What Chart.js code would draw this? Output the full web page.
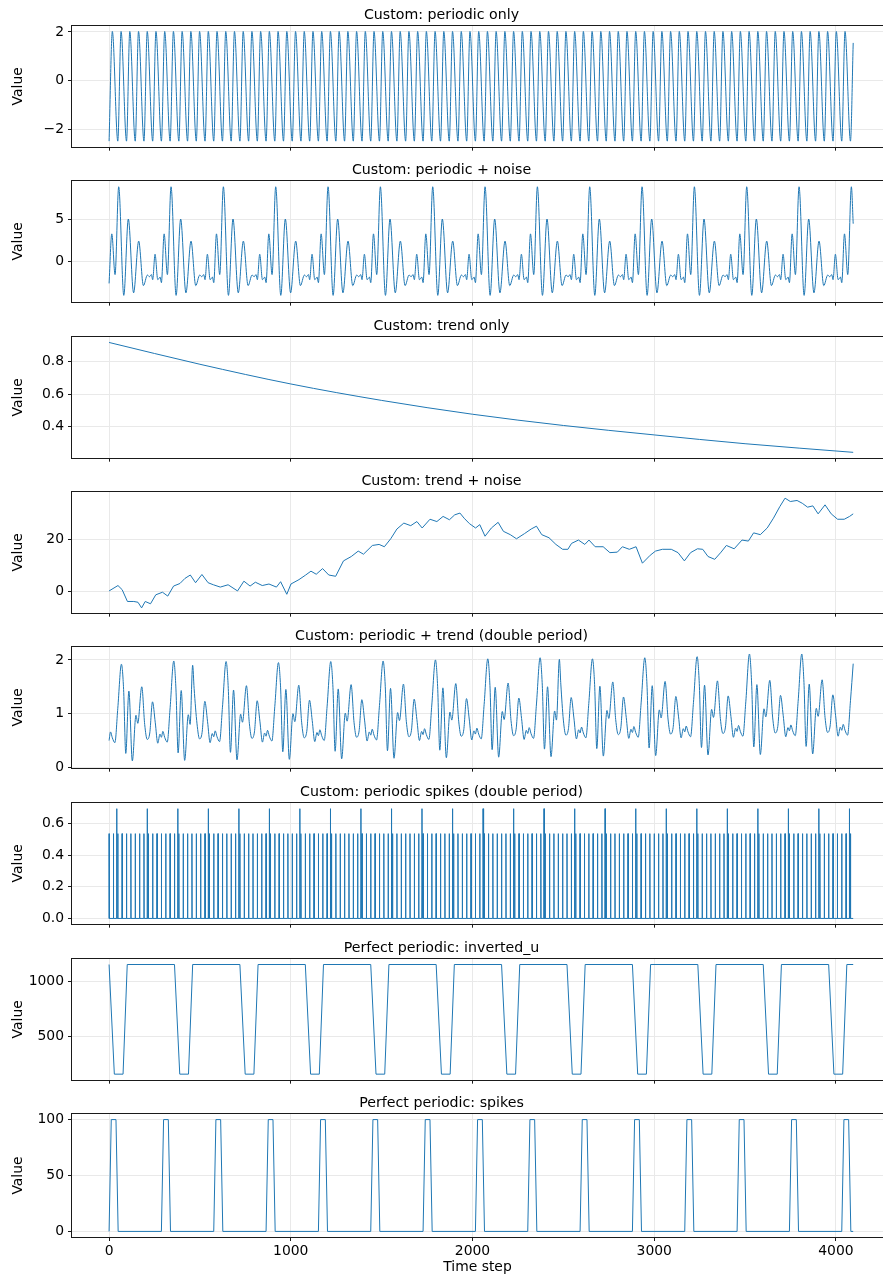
<!DOCTYPE html>
<html>
<head>
<meta charset="utf-8">
<title>Custom and perfect periodic series</title>
<script src="https://cdn.jsdelivr.net/npm/chart.js@4.4.1/dist/chart.umd.min.js"></script>
<style>
  html, body { margin: 0; padding: 0; background: #fff; }
  #figure { position: relative; width: 883px; height: 1277px; overflow: hidden; }
  #figure canvas { position: absolute; left: 0; }
</style>
</head>
<body>
<div id="figure"></div>
<script>
// x axis (time step) shared by all panels
const timeTicks = [0, 1000, 2000, 3000, 4000];
const timeTickLabels = ['0', '1000', '2000', '3000', '4000'];

// [time step, value] vertices
const periodicOnly = [
  [0,-2.48],[18,2.02],[48,-2.48],[66,2.02],[96,-2.48],[114,2.02],[144,-2.48],[162,2.02],
  [192,-2.48],[210,2.02],[240,-2.48],[258,2.02],[288,-2.48],[306,2.02],[336,-2.48],[354,2.02],
  [384,-2.48],[402,2.02],[432,-2.48],[450,2.02],[480,-2.48],[498,2.02],[528,-2.48],[546,2.02],
  [576,-2.48],[594,2.02],[624,-2.48],[642,2.02],[672,-2.48],[690,2.02],[720,-2.48],[738,2.02],
  [768,-2.48],[786,2.02],[816,-2.48],[834,2.02],[864,-2.48],[882,2.02],[912,-2.48],[930,2.02],
  [960,-2.48],[978,2.02],[1008,-2.48],[1026,2.02],[1056,-2.48],[1074,2.02],[1104,-2.48],[1122,2.02],
  [1152,-2.48],[1170,2.02],[1200,-2.48],[1218,2.02],[1248,-2.48],[1266,2.02],[1296,-2.48],[1314,2.02],
  [1344,-2.48],[1362,2.02],[1392,-2.48],[1410,2.02],[1440,-2.48],[1458,2.02],[1488,-2.48],[1506,2.02],
  [1536,-2.48],[1554,2.02],[1584,-2.48],[1602,2.02],[1632,-2.48],[1650,2.02],[1680,-2.48],[1698,2.02],
  [1728,-2.48],[1746,2.02],[1776,-2.48],[1794,2.02],[1824,-2.48],[1842,2.02],[1872,-2.48],[1890,2.02],
  [1920,-2.48],[1938,2.02],[1968,-2.48],[1986,2.02],[2016,-2.48],[2034,2.02],[2064,-2.48],[2082,2.02],
  [2112,-2.48],[2130,2.02],[2160,-2.48],[2178,2.02],[2208,-2.48],[2226,2.02],[2256,-2.48],[2274,2.02],
  [2304,-2.48],[2322,2.02],[2352,-2.48],[2370,2.02],[2400,-2.48],[2418,2.02],[2448,-2.48],[2466,2.02],
  [2496,-2.48],[2514,2.02],[2544,-2.48],[2562,2.02],[2592,-2.48],[2610,2.02],[2640,-2.48],[2658,2.02],
  [2688,-2.48],[2706,2.02],[2736,-2.48],[2754,2.02],[2784,-2.48],[2802,2.02],[2832,-2.48],[2850,2.02],
  [2880,-2.48],[2898,2.02],[2928,-2.48],[2946,2.02],[2976,-2.48],[2994,2.02],[3024,-2.48],[3042,2.02],
  [3072,-2.48],[3090,2.02],[3120,-2.48],[3138,2.02],[3168,-2.48],[3186,2.02],[3216,-2.48],[3234,2.02],
  [3264,-2.48],[3282,2.02],[3312,-2.48],[3330,2.02],[3360,-2.48],[3378,2.02],[3408,-2.48],[3426,2.02],
  [3456,-2.48],[3474,2.02],[3504,-2.48],[3522,2.02],[3552,-2.48],[3570,2.02],[3600,-2.48],[3618,2.02],
  [3648,-2.48],[3666,2.02],[3696,-2.48],[3714,2.02],[3744,-2.48],[3762,2.02],[3792,-2.48],[3810,2.02],
  [3840,-2.48],[3858,2.02],[3888,-2.48],[3906,2.02],[3936,-2.48],[3954,2.02],[3984,-2.48],[4002,2.02],
  [4032,-2.48],[4050,2.02],[4080,-2.48],[4095,1.55]
];

const periodicNoise = [
  [0,-2.54],[15,3.3],[33,-1.5],[53,8.85],[81,-3.95],[106,5.05],[135,-3.65],[163,2.45],[189,-2.8],[211,-1.55],[222,-1.75],[233,-1.5],[240,-2.1],[253,0.9],[268,-2.1],[281,-1.8],
  [288,-2.45],[303,3.3],[321,-1.5],[341,8.85],[369,-3.95],[394,5.05],[423,-3.65],[451,2.45],[477,-2.8],[499,-1.55],[510,-1.75],[521,-1.5],[528,-2.1],[541,0.9],[556,-2.1],[569,-1.8],
  [576,-2.45],[591,3.3],[609,-1.5],[629,8.85],[657,-3.95],[682,5.05],[711,-3.65],[739,2.45],[765,-2.8],[787,-1.55],[798,-1.75],[809,-1.5],[816,-2.1],[829,0.9],[844,-2.1],[857,-1.8],
  [864,-2.45],[879,3.3],[897,-1.5],[917,8.85],[945,-3.95],[970,5.05],[999,-3.65],[1027,2.45],[1053,-2.8],[1075,-1.55],[1086,-1.75],[1097,-1.5],[1104,-2.1],[1117,0.9],[1132,-2.1],[1145,-1.8],
  [1152,-2.45],[1167,3.3],[1185,-1.5],[1205,8.85],[1233,-3.95],[1258,5.05],[1287,-3.65],[1315,2.45],[1341,-2.8],[1363,-1.55],[1374,-1.75],[1385,-1.5],[1392,-2.1],[1405,0.9],[1420,-2.1],[1433,-1.8],
  [1440,-2.45],[1455,3.3],[1473,-1.5],[1493,8.85],[1521,-3.95],[1546,5.05],[1575,-3.65],[1603,2.45],[1629,-2.8],[1651,-1.55],[1662,-1.75],[1673,-1.5],[1680,-2.1],[1693,0.9],[1708,-2.1],[1721,-1.8],
  [1728,-2.45],[1743,3.3],[1761,-1.5],[1781,8.85],[1809,-3.95],[1834,5.05],[1863,-3.65],[1891,2.45],[1917,-2.8],[1939,-1.55],[1950,-1.75],[1961,-1.5],[1968,-2.1],[1981,0.9],[1996,-2.1],[2009,-1.8],
  [2016,-2.45],[2031,3.3],[2049,-1.5],[2069,8.85],[2097,-3.95],[2122,5.05],[2151,-3.65],[2179,2.45],[2205,-2.8],[2227,-1.55],[2238,-1.75],[2249,-1.5],[2256,-2.1],[2269,0.9],[2284,-2.1],[2297,-1.8],
  [2304,-2.45],[2319,3.3],[2337,-1.5],[2357,8.85],[2385,-3.95],[2410,5.05],[2439,-3.65],[2467,2.45],[2493,-2.8],[2515,-1.55],[2526,-1.75],[2537,-1.5],[2544,-2.1],[2557,0.9],[2572,-2.1],[2585,-1.8],
  [2592,-2.45],[2607,3.3],[2625,-1.5],[2645,8.85],[2673,-3.95],[2698,5.05],[2727,-3.65],[2755,2.45],[2781,-2.8],[2803,-1.55],[2814,-1.75],[2825,-1.5],[2832,-2.1],[2845,0.9],[2860,-2.1],[2873,-1.8],
  [2880,-2.45],[2895,3.3],[2913,-1.5],[2933,8.85],[2961,-3.95],[2986,5.05],[3015,-3.65],[3043,2.45],[3069,-2.8],[3091,-1.55],[3102,-1.75],[3113,-1.5],[3120,-2.1],[3133,0.9],[3148,-2.1],[3161,-1.8],
  [3168,-2.45],[3183,3.3],[3201,-1.5],[3221,8.85],[3249,-3.95],[3274,5.05],[3303,-3.65],[3331,2.45],[3357,-2.8],[3379,-1.55],[3390,-1.75],[3401,-1.5],[3408,-2.1],[3421,0.9],[3436,-2.1],[3449,-1.8],
  [3456,-2.45],[3471,3.3],[3489,-1.5],[3509,8.85],[3537,-3.95],[3562,5.05],[3591,-3.65],[3619,2.45],[3645,-2.8],[3667,-1.55],[3678,-1.75],[3689,-1.5],[3696,-2.1],[3709,0.9],[3724,-2.1],[3737,-1.8],
  [3744,-2.45],[3759,3.3],[3777,-1.5],[3797,8.85],[3825,-3.95],[3850,5.05],[3879,-3.65],[3907,2.45],[3933,-2.8],[3955,-1.55],[3966,-1.75],[3977,-1.5],[3984,-2.1],[3997,0.9],[4012,-2.1],[4025,-1.8],
  [4032,-2.45],[4047,3.3],[4065,-1.5],[4085,8.85],[4095,4.5]
];

const trendOnly = [
  [0,0.918],[500,0.784],[1000,0.663],[1500,0.562],[2000,0.477],[2500,0.408],[3000,0.35],[3500,0.296],[4095,0.243]
];

const trendNoise = [
  [0,0.1],[49,2.2],[72,0.6],[101,-4.0],[136,-4.0],[159,-4.3],[179,-6.5],[199,-4.0],[228,-4.9],[257,-1.4],
  [294,-0.4],[323,-1.9],[355,2.0],[390,3.0],[418,5.0],[447,6.3],[476,3.3],[511,6.5],[545,3.3],[574,2.5],
  [612,1.6],[655,2.5],[707,0.1],[742,3.9],[776,2.0],[805,3.5],[843,2.2],[880,2.8],[921,1.6],[944,3.7],
  [978,-1.2],[1001,2.8],[1045,4.5],[1082,6.3],[1111,7.8],[1140,6.6],[1175,8.8],[1209,6.3],[1247,5.8],[1290,11.8],
  [1333,13.5],[1371,15.6],[1400,14.4],[1449,17.8],[1486,18.2],[1515,17.3],[1550,20.4],[1584,24.2],[1622,26.5],[1660,25.5],
  [1694,27.1],[1723,24.6],[1766,28.0],[1804,27.1],[1838,29.1],[1873,27.8],[1902,29.7],[1931,30.4],[1954,28.4],[1983,26.3],
  [2017,24.6],[2040,25.9],[2069,21.4],[2104,24.6],[2141,26.8],[2170,23.3],[2208,22.0],[2242,20.4],[2286,22.4],[2323,24.2],
  [2352,25.3],[2381,22.0],[2421,20.8],[2459,18.2],[2496,16.3],[2525,16.3],[2545,18.6],[2583,19.9],[2618,18.2],[2641,19.9],
  [2675,17.3],[2719,17.3],[2756,15.0],[2797,15.2],[2825,17.3],[2863,16.3],[2900,17.3],[2935,10.9],[2978,14.0],[3007,15.6],
  [3045,16.3],[3094,16.3],[3131,15.0],[3166,11.8],[3200,15.0],[3238,16.5],[3267,16.3],[3296,13.5],[3333,12.4],[3368,15.2],
  [3397,17.8],[3440,16.5],[3483,19.9],[3518,19.5],[3547,22.7],[3584,22.0],[3622,24.6],[3656,28.4],[3691,32.9],[3720,36.2],
  [3749,34.9],[3786,35.3],[3815,34.2],[3844,32.7],[3873,33.2],[3902,30.1],[3940,33.6],[3974,30.1],[4009,28.0],[4046,28.0],
  [4075,29.1],[4095,30.1]
];

const periodicTrend = [
  [0,0.5],[8,0.66],[18,0.55],[32,0.46],[48,1.1],[68,1.92],[80,1.45],[92,0.26],[109,1.42],[128,0.12],[148,0.97],[158,0.82],[180,1.5],[196,0.8],[210,0.52],[224,0.64],[239,1.22],[254,0.84],[268,0.45],[280,0.62],
  [288,0.56],[296,0.67],[306,0.56],[320,0.47],[336,1.11],[356,1.98],[368,1.46],[380,0.27],[397,1.43],[416,0.13],[436,0.98],[446,0.8],[460,1.9],[468,1.47],[484,0.81],[498,0.53],[512,0.65],[527,1.23],[542,0.85],[556,0.46],[568,0.63],
  [576,0.57],[584,0.68],[594,0.57],[608,0.48],[624,1.12],[644,1.97],[656,1.47],[668,0.28],[685,1.44],[704,0.14],[724,0.99],[734,0.84],[756,1.52],[772,0.82],[786,0.54],[800,0.66],[815,1.24],[830,0.86],[844,0.47],[856,0.64],
  [864,0.58],[872,0.69],[882,0.58],[896,0.49],[912,1.13],[932,1.95],[944,1.48],[956,0.29],[973,1.45],[992,0.15],[1012,1.0],[1022,0.85],[1044,1.53],[1060,0.83],[1074,0.55],[1088,0.67],[1103,1.25],[1118,0.87],[1132,0.48],[1144,0.65],
  [1152,0.59],[1160,0.7],[1170,0.59],[1184,0.5],[1200,1.14],[1220,1.97],[1232,1.49],[1244,0.3],[1261,1.46],[1280,0.16],[1300,1.01],[1310,0.86],[1332,1.54],[1348,0.84],[1362,0.56],[1376,0.68],[1391,1.26],[1406,0.88],[1420,0.49],[1432,0.66],
  [1440,0.6],[1448,0.71],[1458,0.6],[1472,0.51],[1488,1.15],[1508,1.98],[1520,1.5],[1532,0.31],[1549,1.47],[1568,0.17],[1588,1.02],[1598,0.87],[1620,1.55],[1636,0.85],[1650,0.57],[1664,0.69],[1679,1.27],[1694,0.89],[1708,0.5],[1720,0.67],
  [1728,0.61],[1736,0.72],[1746,0.61],[1760,0.52],[1776,1.16],[1796,2.0],[1808,1.51],[1820,0.32],[1837,1.48],[1856,0.18],[1876,1.03],[1886,0.88],[1908,1.56],[1924,0.86],[1938,0.58],[1952,0.7],[1967,1.28],[1982,0.9],[1996,0.51],[2008,0.68],
  [2016,0.62],[2024,0.73],[2034,0.62],[2048,0.53],[2064,1.17],[2084,2.02],[2096,1.52],[2108,0.33],[2125,1.49],[2144,0.19],[2164,1.04],[2174,0.89],[2196,1.57],[2212,0.87],[2226,0.59],[2240,0.71],[2255,1.29],[2270,0.91],[2284,0.52],[2296,0.69],
  [2304,0.63],[2312,0.74],[2322,0.63],[2336,0.54],[2352,1.18],[2372,2.04],[2384,1.53],[2396,0.34],[2413,1.5],[2432,0.2],[2452,1.05],[2462,0.88],[2478,2.01],[2486,1.55],[2500,0.88],[2514,0.6],[2528,0.72],[2543,1.3],[2558,0.92],[2572,0.53],[2584,0.7],
  [2592,0.64],[2600,0.75],[2610,0.64],[2624,0.55],[2640,1.19],[2660,2.02],[2672,1.54],[2684,0.35],[2701,1.51],[2720,0.21],[2740,1.06],[2750,0.91],[2772,1.59],[2788,0.89],[2802,0.61],[2816,0.73],[2831,1.31],[2846,0.93],[2860,0.54],[2872,0.71],
  [2880,0.65],[2888,0.76],[2898,0.65],[2912,0.56],[2928,1.2],[2948,2.04],[2960,1.55],[2972,0.36],[2989,1.52],[3008,0.22],[3028,1.07],[3038,0.92],[3060,1.6],[3076,0.9],[3090,0.62],[3104,0.74],[3119,1.32],[3134,0.94],[3148,0.55],[3160,0.72],
  [3168,0.66],[3176,0.77],[3186,0.66],[3200,0.57],[3216,1.21],[3236,2.06],[3248,1.56],[3260,0.37],[3277,1.53],[3296,0.23],[3316,1.08],[3326,0.93],[3348,1.61],[3364,0.91],[3378,0.63],[3392,0.75],[3407,1.33],[3422,0.95],[3436,0.56],[3448,0.73],
  [3456,0.67],[3464,0.78],[3474,0.67],[3488,0.58],[3504,1.22],[3524,2.11],[3536,1.57],[3548,0.38],[3565,1.54],[3584,0.24],[3604,1.09],[3614,0.94],[3636,1.62],[3652,0.92],[3666,0.64],[3680,0.76],[3695,1.34],[3710,0.96],[3724,0.57],[3736,0.74],
  [3744,0.68],[3752,0.79],[3762,0.68],[3776,0.59],[3792,1.23],[3812,2.11],[3824,1.58],[3836,0.39],[3853,1.55],[3872,0.25],[3892,1.1],[3902,0.95],[3924,1.63],[3940,0.93],[3954,0.65],[3968,0.77],[3983,1.35],[3998,0.97],[4012,0.58],[4024,0.75],
  [4032,0.69],[4040,0.8],[4050,0.69],[4064,0.6],[4080,1.24],[4095,1.93]
];

// periodic spikes: time steps of the short and the tall spikes
const spikeShortTimes = [
  0,24,48,72,96,120,144,168,192,216,240,264,288,312,336,360,384,408,432,456,480,504,528,552,576,600,
  624,648,672,696,720,744,768,792,816,840,864,888,912,936,960,984,1008,1032,1056,1080,1104,1128,1152,
  1176,1200,1224,1248,1272,1296,1320,1344,1368,1392,1416,1440,1464,1488,1512,1536,1560,1584,1608,1632,
  1656,1680,1704,1728,1752,1776,1800,1824,1848,1872,1896,1920,1944,1968,1992,2016,2040,2064,2088,2112,
  2136,2160,2184,2208,2232,2256,2280,2304,2328,2352,2376,2400,2424,2448,2472,2496,2520,2544,2568,2592,
  2616,2640,2664,2688,2712,2736,2760,2784,2808,2832,2856,2880,2904,2928,2952,2976,3000,3024,3048,3072,
  3096,3120,3144,3168,3192,3216,3240,3264,3288,3312,3336,3360,3384,3408,3432,3456,3480,3504,3528,3552,
  3576,3600,3624,3648,3672,3696,3720,3744,3768,3792,3816,3840,3864,3888,3912,3936,3960,3984,4008,4032,
  4056,4080
];
const spikeTallTimes = [
  42,210,378,546,714,882,1050,1218,1386,1554,1722,1890,2058,2226,2394,2562,2730,2898,3066,3234,
  3402,3570,3738,3906,4074
];
const spikeShortHeight = 0.537;
const spikeTallHeight = 0.695;

const invertedU = [
  [0,1154],[29,158],[77,158],[100,1154],
  [360,1154],[389,158],[437,158],[460,1154],
  [720,1154],[749,158],[797,158],[820,1154],
  [1080,1154],[1109,158],[1157,158],[1180,1154],
  [1440,1154],[1469,158],[1517,158],[1540,1154],
  [1800,1154],[1829,158],[1877,158],[1900,1154],
  [2160,1154],[2189,158],[2237,158],[2260,1154],
  [2520,1154],[2549,158],[2597,158],[2620,1154],
  [2880,1154],[2909,158],[2957,158],[2980,1154],
  [3240,1154],[3269,158],[3317,158],[3340,1154],
  [3600,1154],[3629,158],[3677,158],[3700,1154],
  [3960,1154],[3989,158],[4037,158],[4060,1154],
  [4095,1154]
];

const perfectSpikes = [
  [0,0],[12,100],[38,100],[50,0],
  [288,0],[300,100],[326,100],[338,0],
  [576,0],[588,100],[614,100],[626,0],
  [864,0],[876,100],[902,100],[914,0],
  [1152,0],[1164,100],[1190,100],[1202,0],
  [1440,0],[1452,100],[1478,100],[1490,0],
  [1728,0],[1740,100],[1766,100],[1778,0],
  [2016,0],[2028,100],[2054,100],[2066,0],
  [2304,0],[2316,100],[2342,100],[2354,0],
  [2592,0],[2604,100],[2630,100],[2642,0],
  [2880,0],[2892,100],[2918,100],[2930,0],
  [3168,0],[3180,100],[3206,100],[3218,0],
  [3456,0],[3468,100],[3494,100],[3506,0],
  [3744,0],[3756,100],[3782,100],[3794,0],
  [4032,0],[4044,100],[4070,100],[4082,0],
  [4095,0]
];

const lineColor = '#1f77b4';
const gridColor = '#e9e9e9';
const spineColor = '#1a1a1a';
const xMin = -204;
const xMax = 4259;
const panelTops = [26, 181, 337, 492, 647, 803, 959, 1114];
const plotHeight = 123;
const titleSpace = 19;
const tickFontSize = 13.9;

Chart.defaults.font.family = "'DejaVu Sans', sans-serif";
Chart.defaults.color = '#000';

function toXY(pairs) {
  return pairs.map(([x, y]) => ({ x, y }));
}

function buildSpikes(shortTimes, tallTimes, shortHeight, tallHeight, lastTime) {
  const marks = shortTimes.map((t) => [t, shortHeight])
    .concat(tallTimes.map((t) => [t, tallHeight]))
    .sort((a, b) => a[0] - b[0]);
  const points = [];
  marks.forEach(([t, h]) => {
    if (t > 0) points.push({ x: t - 1, y: 0 });
    points.push({ x: t, y: h });
    points.push({ x: t + 1, y: 0 });
  });
  points.push({ x: lastTime, y: 0 });
  return points;
}

const panels = [
  { title: 'Custom: periodic only', points: toXY(periodicOnly), smooth: true,
    yMin: -2.706, yMax: 2.243, yTicks: [-2, 0, 2], yLabels: ['\u22122', '0', '2'] },
  { title: 'Custom: periodic + noise', points: toXY(periodicNoise), smooth: true,
    yMin: -4.69, yMax: 9.53, yTicks: [0, 5], yLabels: ['0', '5'] },
  { title: 'Custom: trend only', points: toXY(trendOnly), smooth: true,
    yMin: 0.2103, yMax: 0.9515, yTicks: [0.4, 0.6, 0.8], yLabels: ['0.4', '0.6', '0.8'] },
  { title: 'Custom: trend + noise', points: toXY(trendNoise), smooth: false,
    yMin: -8.35, yMax: 38.6, yTicks: [0, 20], yLabels: ['0', '20'] },
  { title: 'Custom: periodic + trend (double period)', points: toXY(periodicTrend), smooth: true,
    yMin: -0.005, yMax: 2.24, yTicks: [0, 1, 2], yLabels: ['0', '1', '2'] },
  { title: 'Custom: periodic spikes (double period)', smooth: false,
    points: buildSpikes(spikeShortTimes, spikeTallTimes, spikeShortHeight, spikeTallHeight, 4095),
    yMin: -0.033, yMax: 0.731, yTicks: [0, 0.2, 0.4, 0.6], yLabels: ['0.0', '0.2', '0.4', '0.6'] },
  { title: 'Perfect periodic: inverted_u', points: toXY(invertedU), smooth: false,
    yMin: 108, yMax: 1204, yTicks: [500, 1000], yLabels: ['500', '1000'] },
  { title: 'Perfect periodic: spikes', points: toXY(perfectSpikes), smooth: false,
    yMin: -5, yMax: 105, yTicks: [0, 50, 100], yLabels: ['0', '50', '100'] }
];

const framePlugin = {
  id: 'frame',
  afterDatasetsDraw(chart) {
    const { ctx, chartArea: a } = chart;
    ctx.save();
    ctx.strokeStyle = spineColor;
    ctx.lineWidth = 1;
    ctx.strokeRect(Math.round(a.left) - 0.5, Math.round(a.top) - 0.5,
      Math.round(a.right - a.left) + 1, Math.round(a.bottom - a.top) + 1);
    ctx.restore();
  }
};

const figure = document.getElementById('figure');

panels.forEach((panel, index) => {
  const last = index === panels.length - 1;
  const bottomSpace = last ? 40 : 10;
  const canvas = document.createElement('canvas');
  canvas.width = 883;
  canvas.height = titleSpace + plotHeight + bottomSpace;
  canvas.style.top = `${panelTops[index] - titleSpace}px`;
  figure.appendChild(canvas);

  const gridOptions = {
    color: gridColor,
    lineWidth: 1,
    tickColor: spineColor,
    tickLength: 4,
    tickWidth: 1
  };

  new Chart(canvas, {
    type: 'line',
    data: {
      datasets: [{
        data: panel.points,
        borderColor: lineColor,
        borderWidth: 1,
        pointRadius: 0,
        fill: false,
        tension: 0,
        cubicInterpolationMode: panel.smooth ? 'monotone' : 'default'
      }]
    },
    options: {
      responsive: false,
      animation: false,
      events: [],
      layout: { padding: 0 },
      plugins: {
        legend: { display: false },
        tooltip: { enabled: false },
        title: {
          display: true,
          text: panel.title,
          color: '#000',
          font: { size: 14.2, weight: 'normal', lineHeight: 1.2 },
          padding: { top: 0, bottom: 1.96 }
        }
      },
      scales: {
        x: {
          type: 'linear',
          min: xMin,
          max: xMax,
          afterBuildTicks: (scale) => { scale.ticks = timeTicks.map((value) => ({ value })); },
          afterFit: (scale) => { scale.height = bottomSpace; },
          grid: gridOptions,
          border: { display: false },
          ticks: {
            display: last,
            font: { size: tickFontSize },
            color: '#000',
            padding: 2,
            maxRotation: 0,
            autoSkip: false,
            callback: (value) => timeTickLabels[timeTicks.indexOf(value)]
          },
          title: { display: last, text: 'Time step', color: '#000', font: { size: tickFontSize }, padding: { top: 0, bottom: 1.5 } }
        },
        y: {
          type: 'linear',
          min: panel.yMin,
          max: panel.yMax,
          afterBuildTicks: (scale) => { scale.ticks = panel.yTicks.map((value) => ({ value })); },
          afterFit: (scale) => { scale.width = 72; },
          grid: gridOptions,
          border: { display: false },
          ticks: {
            font: { size: tickFontSize },
            color: '#000',
            padding: 4,
            callback: (value) => panel.yLabels[panel.yTicks.indexOf(value)]
          },
          title: { display: true, text: 'Value', color: '#000', font: { size: tickFontSize }, padding: { top: 10.2, bottom: 0 } }
        }
      }
    },
    plugins: [framePlugin]
  });
});
</script>
</body>
</html>
